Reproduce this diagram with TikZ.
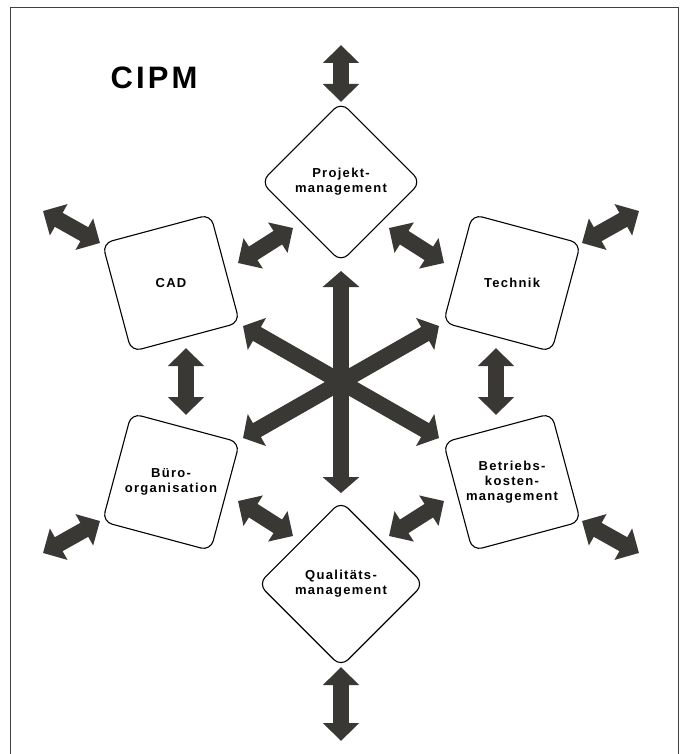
\documentclass[tikz,border=0pt]{standalone}
\usepackage{fontspec}
\setmainfont{Liberation Sans}
\newfontfamily\labfont[LetterSpace=10]{Liberation Sans}
\usetikzlibrary{arrows.meta}
\definecolor{ink}{HTML}{3A3835}
\begin{document}
\begin{tikzpicture}[x=1pt,y=-1pt,
  box/.style={draw=black, line width=1.1pt, rounded corners=10pt, inner sep=0pt},
  lab/.style={font=\labfont\bfseries\fontsize{13}{15}\selectfont, align=center, text=black},
  dbl/.style={draw=ink, line width=16pt, {Triangle[width=35pt,length=18pt]}-{Triangle[width=35pt,length=18pt]}},
  starr/.style={draw=ink, line width=16pt, {Triangle[width=36pt,length=16pt]}-{Triangle[width=36pt,length=16pt]}},
]
\useasboundingbox (0,0) rectangle (681,754);
% frame
\draw[black!75, line width=1pt] (10,754) -- (10,8) -- (678,8) -- (678,754);

% title
\node[font=\labfont\bfseries\fontsize{31}{36}\selectfont] (title) at (154,78) {CIPM};

% boxes
\node[box, minimum size=113pt, rotate=45] (pm) at (341,182) {};
\node[lab] (pmt) at (pm) {Projekt-\\management};
\node[box, minimum size=117pt, rotate=45] (qm) at (341,584) {};
\node[lab] (qmt) at (qm) {Qualitäts-\\management};
\node[box, minimum size=112pt, rotate=15] (cad) at (171,283) {};
\node[lab] (cadt) at (cad) {CAD};
\node[box, minimum size=112pt, rotate=-15] (tec) at (512,283) {};
\node[lab] (tect) at (tec) {Technik};
\node[box, minimum size=112pt, rotate=-15] (bur) at (171,482) {};
\node[lab] (burt) at (bur) {Büro-\\organisation};
\node[box, minimum size=112pt, rotate=15] (bkm) at (512,482) {};
\node[lab] (bkmt) at (bkm) {Betriebs-\\kosten-\\management};

% central star
\coordinate (c) at (341,382);
\coordinate (sN) at (341,271);
\coordinate (sS) at (341,493);
\coordinate (sNW) at (243,326);
\coordinate (sSE) at (439,438);
\coordinate (sSW) at (243,438);
\coordinate (sNE) at (439,326);
\draw[starr] (sN) -- (sS);
\draw[starr] (sNW) -- (sSE);
\draw[starr] (sSW) -- (sNE);

% outer double arrows
\coordinate (t1) at (341,45);   \coordinate (t2) at (341,102);
\coordinate (b1) at (341,667);  \coordinate (b2) at (341,741);
\coordinate (co1) at (43,211);  \coordinate (co2) at (100,243);
\coordinate (to1) at (639,211); \coordinate (to2) at (582,243);
\coordinate (bo1) at (43,553);  \coordinate (bo2) at (100,521);
\coordinate (ko1) at (639,553); \coordinate (ko2) at (582,521);
\coordinate (pc1) at (238,263); \coordinate (pc2) at (293,228);
\coordinate (pt1) at (444,263); \coordinate (pt2) at (389,228);
\coordinate (cb1) at (186,348); \coordinate (cb2) at (186,415);
\coordinate (tk1) at (496,348); \coordinate (tk2) at (496,415);
\coordinate (bq1) at (238,501); \coordinate (bq2) at (293,536);
\coordinate (kq1) at (444,501); \coordinate (kq2) at (389,536);
\draw[dbl] (t1) -- (t2);
\draw[dbl] (b1) -- (b2);
\draw[dbl] (co1) -- (co2);
\draw[dbl] (to1) -- (to2);
\draw[dbl] (bo1) -- (bo2);
\draw[dbl] (ko1) -- (ko2);
\draw[dbl] (pc1) -- (pc2);
\draw[dbl] (pt1) -- (pt2);
\draw[dbl] (cb1) -- (cb2);
\draw[dbl] (tk1) -- (tk2);
\draw[dbl] (bq1) -- (bq2);
\draw[dbl] (kq1) -- (kq2);
\end{tikzpicture}
\end{document}
